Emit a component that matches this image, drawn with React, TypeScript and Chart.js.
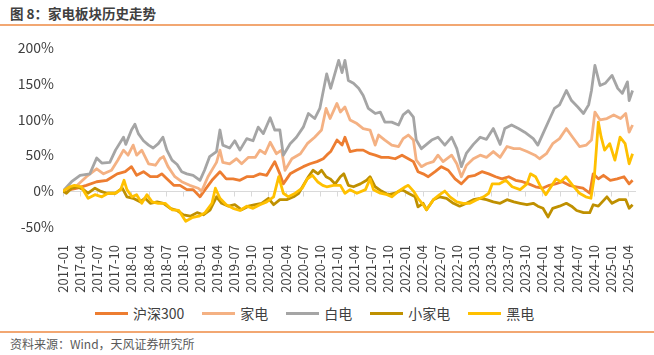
import React, { useEffect, useRef } from "react";
import { Chart, registerables } from "chart.js";

Chart.register(...registerables);

const seriesNames = ["沪深300", "家电", "白电", "小家电", "黑电"];
const seriesColors = ["#ED7D31", "#F4B183", "#A5A5A5", "#BF9000", "#FFC000"];

// x positions are months elapsed since 2017-01
const tickMonths = [0, 3, 6, 9, 12, 15, 18, 21, 24, 27, 30, 33, 36, 39, 42, 45, 48, 51, 54, 57, 60, 63, 66, 69, 72, 75, 78, 81, 84, 87, 90, 93, 96, 99];
const tickLabels = [
  "2017-01", "2017-04", "2017-07", "2017-10",
  "2018-01", "2018-04", "2018-07", "2018-10",
  "2019-01", "2019-04", "2019-07", "2019-10",
  "2020-01", "2020-04", "2020-07", "2020-10",
  "2021-01", "2021-04", "2021-07", "2021-10",
  "2022-01", "2022-04", "2022-07", "2022-10",
  "2023-01", "2023-04", "2023-07", "2023-10",
  "2024-01", "2024-04", "2024-07", "2024-10",
  "2025-01", "2025-04",
];
const yTicks = [-50, 0, 50, 100, 150, 200];

const hs300Months = [0, 2.5, 4.1, 5.9, 7.7, 9.5, 10.9, 12, 12.9, 14.1, 15.3, 16.5, 17.3, 18.2, 19.4, 20.5, 21.7, 22.8, 24, 24.9, 26.1, 27.5, 28.6, 29.8, 31, 32.2, 33.3, 34.5, 35.7, 37.1, 38, 38.6, 39.8, 40.9, 42.1, 43.3, 44.5, 45.6, 46.2, 46.9, 48, 48.9, 49.4, 50.3, 51.5, 52.6, 53.8, 54.7, 55.8, 57, 58.2, 59.4, 60.5, 61.4, 62.2, 63.1, 64, 65.2, 66.3, 67.5, 68.7, 69.8, 71, 72.2, 73.4, 74.6, 75.8, 76.9, 78.1, 79.3, 80.5, 81.6, 82.8, 84, 85.2, 86.3, 87.5, 88.7, 89.9, 91.1, 92.3, 92.9, 93.8, 94.7, 95.9, 97.1, 98.3, 99.2, 99.8];
const hs300Values = [0, 4, 8, 13, 15, 24, 27, 34, 22, 27, 20, 20, 24, 17, 8, 8, 2, 2, -8, 2, 15, 27, 17, 17, 15, 20, 20, 24, 22, 41, 24, 10, 24, 29, 34, 38, 41, 45, 50, 55, 71, 64, 75, 55, 57, 57, 52, 50, 47, 47, 45, 50, 45, 41, 27, 24, 20, 27, 34, 29, 17, 10, 20, 22, 27, 24, 20, 17, 20, 15, 13, 10, 6, 4, 8, 10, 13, 8, 6, 4, -3, 24, 17, 22, 15, 17, 20, 10, 15];

const jdMonths = [0, 2.5, 4.1, 5.9, 7.1, 8.5, 9.6, 10.6, 11.4, 12.3, 12.9, 13.8, 15, 16.2, 17, 17.6, 18.4, 19.6, 20.8, 22.2, 23.7, 24.3, 25.4, 26.9, 27.5, 28, 29.2, 30.4, 31.3, 32.5, 33.7, 34.5, 35.4, 36.3, 37.4, 38.3, 38.9, 40.1, 41.6, 42.8, 44.1, 45.3, 46.1, 46.8, 48, 48.6, 49.4, 50.3, 51.5, 52.6, 53.8, 54.7, 55.3, 56.4, 57.6, 58.8, 59.6, 60.5, 61.4, 61.9, 62.8, 63.7, 64.9, 65.7, 66.6, 68.1, 69, 69.8, 70.7, 71.9, 73.1, 74.2, 75.4, 76.6, 77.8, 79, 80.1, 81.3, 82.7, 83.5, 84.7, 85.8, 87, 88.2, 89.3, 90.5, 91.7, 92.6, 93.2, 94.1, 95.3, 96.5, 97.7, 98.6, 99.2, 99.8];
const jdValues = [0, 8, 20, 31, 24, 29, 43, 57, 50, 64, 50, 57, 38, 36, 45, 48, 34, 20, 13, 8, 4, 0, 20, 40, 57, 40, 38, 45, 38, 47, 47, 57, 52, 68, 52, 57, 29, 45, 52, 66, 75, 85, 115, 101, 122, 110, 117, 99, 94, 87, 85, 64, 78, 71, 64, 62, 73, 78, 71, 43, 34, 38, 41, 50, 41, 50, 38, 20, 36, 45, 50, 47, 55, 47, 62, 59, 59, 55, 50, 45, 52, 66, 73, 87, 75, 62, 64, 71, 110, 99, 101, 106, 101, 108, 82, 92];

const bdMonths = [0, 1.5, 3, 4.7, 5.9, 6.8, 8.2, 9.2, 10.6, 11, 12, 12.6, 13.2, 14.1, 15, 15.8, 16.7, 17.5, 18.2, 19.1, 20, 20.8, 21.7, 22.8, 24, 24.8, 25.7, 26.9, 27.5, 28, 29.2, 30.1, 31, 32.2, 33.3, 34.2, 35.1, 36.3, 37.1, 38, 38.6, 39.8, 40.9, 42.1, 43, 44.1, 45, 46.2, 46.9, 48.3, 48.9, 49.4, 50, 50.9, 51.8, 52.6, 53.5, 54.7, 55.6, 56.4, 57.6, 58.8, 59.6, 60.5, 61.4, 61.9, 62.8, 63.7, 64.6, 65.7, 66.9, 68.1, 69, 69.8, 70.7, 71.9, 73.1, 74.2, 75.4, 76.6, 77.4, 78.6, 79.8, 80.9, 82.4, 83.2, 84.1, 85.3, 86.1, 87, 88.2, 89.1, 90.2, 91.2, 92.1, 92.6, 93.2, 94.1, 95, 96.2, 97.2, 98, 98.9, 99.2, 99.8];
const bdValues = [0, 13, 22, 24, 46, 39, 40, 57, 75, 65, 85, 93, 80, 70, 64, 60, 66, 75, 57, 43, 37, 27, 24, 22, 15, 29, 48, 55, 85, 64, 60, 70, 57, 73, 70, 89, 80, 102, 85, 85, 50, 66, 75, 89, 108, 101, 115, 163, 143, 182, 165, 182, 154, 150, 143, 133, 115, 108, 110, 96, 96, 92, 106, 112, 103, 71, 59, 65, 71, 75, 64, 75, 59, 34, 53, 65, 75, 72, 87, 65, 87, 92, 87, 82, 73, 64, 80, 101, 115, 120, 140, 126, 117, 108, 120, 140, 175, 147, 150, 161, 143, 136, 152, 126, 140];

const xjdMonths = [0, 0.6, 1.5, 2.5, 3.6, 4.4, 5.6, 6.5, 7.7, 9.2, 10.4, 11.2, 12.3, 13.5, 14.4, 15.3, 16.5, 17.6, 18.8, 20, 21.1, 22.3, 23.5, 24.6, 25.8, 26.9, 27.8, 29, 30.1, 31.3, 32.5, 33.7, 34.8, 36, 36.9, 38, 39.2, 40.4, 41.3, 42.1, 43, 43.8, 44.7, 45.3, 46.1, 46.8, 47.7, 48.6, 49.2, 50, 50.9, 52.1, 53.2, 53.8, 54.7, 55.8, 57, 58.2, 59.4, 60.5, 61.7, 62.2, 63.1, 63.7, 64.9, 66, 67.2, 68.4, 69.5, 70.7, 71.9, 73.1, 74.2, 75.4, 76.6, 77.8, 79, 80.1, 81.3, 82.4, 83.2, 84.1, 85, 85.8, 87, 88.2, 89.1, 90, 91.2, 92.3, 92.9, 93.8, 95.3, 96.2, 97.4, 98.6, 99.2, 99.8];
const xjdValues = [0, -3, 4, 6, 2, -3, 4, 0, -3, -3, 4, -8, -10, -15, -10, -17, -15, -17, -24, -27, -33, -35, -30, -33, -26, -8, -17, -21, -19, -26, -21, -19, -17, -10, -19, -12, -12, -8, -3, 8, 20, 29, 24, 29, 20, 17, 10, 20, 24, 8, 6, 10, 15, 20, 6, 0, -5, -3, 2, -3, -8, -22, -17, -26, -12, -8, -10, -17, -21, -17, -12, -10, -12, -15, -17, -12, -15, -17, -19, -17, -21, -24, -36, -24, -21, -17, -21, -27, -30, -30, -19, -21, -8, -17, -12, -12, -24, -19];

const hdMonths = [0, 1.2, 2, 3.2, 4.4, 5.6, 6.8, 7.9, 9.2, 10.1, 10.7, 11.2, 12.1, 12.9, 13.8, 14.7, 15.6, 16.7, 17.9, 19.1, 20.3, 21.5, 22.6, 23.8, 24.9, 26.1, 26.7, 27.5, 28.6, 29.8, 31, 32.2, 33.3, 34.5, 35.7, 36.9, 37.8, 38.6, 39.5, 40.7, 41.9, 42.8, 43.7, 44.6, 45.5, 46.2, 47.4, 48.6, 49.4, 50.3, 51.5, 53, 53.8, 54.4, 55.6, 56.8, 57.6, 58.8, 60, 60.5, 61.4, 62.2, 63.1, 63.7, 64.9, 66, 66.9, 67.8, 69, 70.1, 71.3, 72.5, 73.7, 74.6, 75.2, 76.4, 77.6, 78.7, 80.1, 81.3, 81.9, 82.8, 83.7, 84.6, 85.5, 86.4, 87.2, 88.1, 89.3, 90.5, 91.6, 92.5, 93.1, 93.8, 94.3, 94.9, 95.8, 96.7, 97.6, 98.5, 99.2, 99.8];
const hdValues = [0, 6, 8, 6, -10, -5, -8, -3, -3, 2, 15, 2, -8, -5, -17, -5, -15, -17, -17, -26, -27, -42, -37, -35, -30, -17, 4, -10, -19, -24, -27, -21, -24, -19, -15, -8, 20, -3, -8, -3, 4, 17, 22, 13, 8, 6, 8, 8, -3, 2, -3, 2, 17, 2, -3, -5, -8, 0, 6, 8, 0, -10, -19, -26, -12, -5, 0, -8, -15, -17, -17, -12, -8, -3, 10, 10, 15, 6, 2, 10, 24, 20, 6, -5, 6, 17, 13, 20, 8, -3, -8, -10, 20, 96, 75, 57, 66, 43, 75, 66, 38, 52];

const seriesMonths = [hs300Months, jdMonths, bdMonths, xjdMonths, hdMonths];
const seriesValues = [hs300Values, jdValues, bdValues, xjdValues, hdValues];

const FONT = "'Noto Sans CJK SC', 'Noto Sans', sans-serif";

const zeroTickPlugin = {
  id: "zeroTicks",
  beforeDatasetsDraw(chart: any) {
    const { ctx, scales } = chart;
    const x = scales.x;
    const y = scales.y;
    const y0 = Math.round(y.getPixelForValue(0)) + 0.5;
    ctx.save();
    ctx.strokeStyle = "#D9D9D9";
    ctx.lineWidth = 1;
    x.ticks.forEach((t: any) => {
      const px = Math.round(x.getPixelForValue(t.value)) + 0.5;
      ctx.beginPath();
      ctx.moveTo(px, y0);
      ctx.lineTo(px, y0 + 5);
      ctx.stroke();
    });
    ctx.restore();
  },
};

export default function App() {
  const canvasRef = useRef<HTMLCanvasElement | null>(null);

  useEffect(() => {
    if (!canvasRef.current) return;
    const datasets = seriesNames.map((name, i) => {
      const months = seriesMonths[i];
      const values = seriesValues[i];
      const n = Math.min(months.length, values.length);
      const data = [] as { x: number; y: number }[];
      for (let k = 0; k < n; k++) data.push({ x: months[k], y: values[k] });
      return {
        label: name,
        data,
        borderColor: seriesColors[i],
        backgroundColor: seriesColors[i],
        borderWidth: 2.8,
        pointRadius: 0,
        pointHoverRadius: 0,
        tension: 0,
        fill: false,
        borderJoinStyle: "round",
        order: seriesNames.length - i,
      };
    });

    const chart = new Chart(canvasRef.current, {
      type: "line",
      data: { datasets },
      plugins: [zeroTickPlugin],
      options: {
        animation: false,
        responsive: false,
        devicePixelRatio: 1,
        layout: { padding: { left: 0, right: 18, top: 17, bottom: 0 } },
        plugins: {
          title: { display: false },
          tooltip: { enabled: false },
          legend: { display: false },
        },
        scales: {
          x: {
            type: "linear",
            min: 0,
            max: 100.4,
            afterBuildTicks: (scale: any) => {
              scale.ticks = tickMonths.map((v) => ({ value: v }));
            },
            afterFit: (scale: any) => {
              scale.height = 70;
            },
            grid: { display: false },
            border: { display: false },
            ticks: {
              autoSkip: false,
              minRotation: 90,
              maxRotation: 90,
              padding: 10,
              color: "#404040",
              font: { family: FONT, size: 13 },
              callback: (value: any) => {
                const idx = tickMonths.indexOf(Number(value));
                return idx >= 0 ? tickLabels[idx] : "";
              },
            },
          },
          y: {
            type: "linear",
            min: -50,
            max: 200,
            afterBuildTicks: (scale: any) => {
              scale.ticks = yTicks.map((v) => ({ value: v }));
            },
            afterFit: (scale: any) => {
              scale.width = 63;
            },
            border: { display: false },
            grid: {
              drawTicks: false,
              lineWidth: 1,
              color: (ctx: any) => (ctx.tick && ctx.tick.value === 0 ? "#D9D9D9" : "rgba(0,0,0,0)"),
            },
            ticks: {
              padding: 9,
              color: "#404040",
              font: { family: FONT, size: 14 },
              callback: (value: any) => `${value}%`,
            },
          },
        },
      } as any,
    });
    return () => chart.destroy();
  }, []);

  return (
    <div
      style={{
        position: "absolute",
        left: 0,
        top: 0,
        width: 654,
        height: 355,
        background: "#ffffff",
        overflow: "hidden",
        fontFamily: FONT,
      }}
    >
      <div
        style={{
          position: "absolute",
          left: 10,
          top: 4,
          fontSize: 13.5,
          fontWeight: "bold",
          color: "#404040",
          lineHeight: "19px",
          whiteSpace: "nowrap",
        }}
      >
        图 8：家电板块历史走势
      </div>
      <div style={{ position: "absolute", left: 0, top: 24, width: 654, height: 2, background: "#F2A772" }} />
      <canvas
        ref={canvasRef}
        width={654}
        height={267}
        style={{ position: "absolute", left: 0, top: 30, width: 654, height: 267 }}
      />
      <div
        style={{
          position: "absolute",
          left: 95,
          top: 303,
          height: 20,
          display: "flex",
          alignItems: "center",
          gap: 18,
          whiteSpace: "nowrap",
        }}
      >
        {seriesNames.map((name, i) => (
          <div key={name} style={{ display: "flex", alignItems: "center" }}>
            <span
              style={{
                display: "inline-block",
                width: 33,
                height: 3,
                background: seriesColors[i],
                marginRight: 5,
              }}
            />
            <span style={{ fontSize: 14, color: "#404040", lineHeight: "20px" }}>{name}</span>
          </div>
        ))}
      </div>
      <div style={{ position: "absolute", left: 0, top: 331, width: 654, height: 2, background: "#F2A772" }} />
      <div
        style={{
          position: "absolute",
          left: 10,
          top: 335,
          fontSize: 12,
          color: "#595959",
          lineHeight: "17px",
          whiteSpace: "nowrap",
        }}
      >
        资料来源：Wind，天风证券研究所
      </div>
    </div>
  );
}
